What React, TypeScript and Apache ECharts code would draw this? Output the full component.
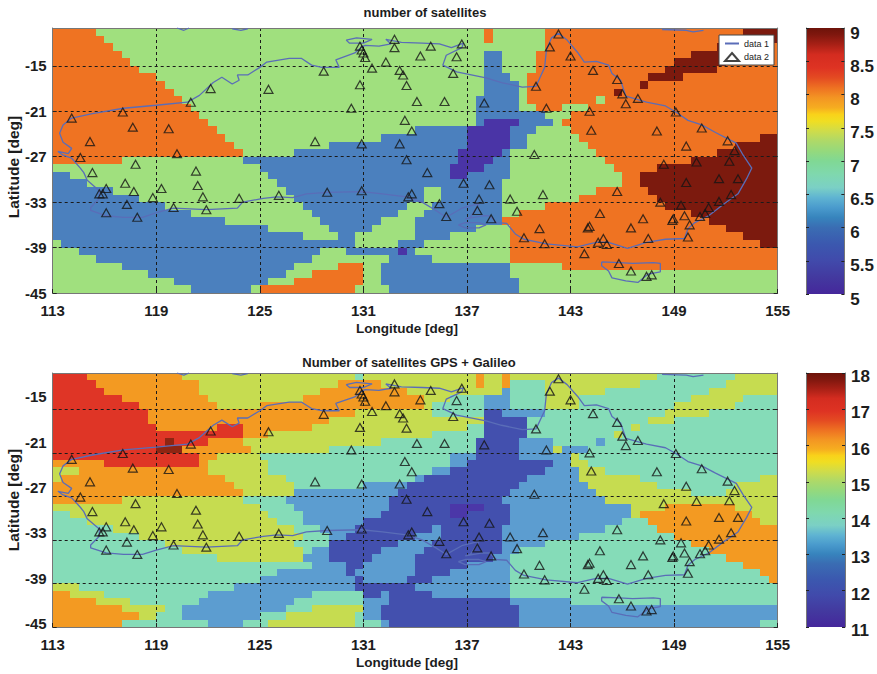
import React, { useEffect, useRef } from "react";
import * as echarts from "echarts";

const lonTicks = [113, 119, 125, 131, 137, 143, 149, 155];
const latTicks = [-15, -21, -27, -33, -39, -45];

// Each row spans one degree of latitude, from -10 downwards. A token is a level code and the longitude where it ends.
const topRows = [
  "O115.5 G138 O138.5 G141.5 O153 D155",
  "O116 G138 O138.5 G141.5 O153 D155",
  "O116.5 G141.5 O151.5 D154.5 O155",
  "O117 G138 B139 G141 O150 D154 O155",
  "O117.5 G138 B139 G141 O149 D152 O155",
  "O118 G138 B139 G141 O148.5 D151.5 O155",
  "O119 G138 B139.5 G140.5 O147.5 D149.5 O155",
  "O119.5 G138 B140 G140.5 O147 D147.5 O155",
  "O120 G138 B140 G140.5 O145.5 D146 O155",
  "O120.5 G137.5 B140 G140.5 O144.5 G145 O155",
  "O121 G137.5 B140 G141 O142.5 G144 O155",
  "O121.5 G137.5 B141.5 G143 O155",
  "O122 G137.5 B138 P140 B142 G142.5 O155",
  "O122.5 G134 B137 P139.5 B141 G143 O155",
  "O123 G132 B137 P139.5 B140.5 G143.5 O154 D155",
  "O123.5 G129 B137 P139.5 B140.5 G144 O152.5 D155",
  "O124 G127 B136.5 P139 B139.5 G144.5 O151.5 D155",
  "O117 G124 B136.5 P138.5 B139.5 G145 O150 D155",
  "G125 B136 P138 B139.5 G145.5 O148 D155",
  "B114 G125.5 B136 P137 B139.5 G146 O147 D155",
  "B115 G126 B139 G146 O147 D155",
  "B116.5 G126.5 B134.5 G135.5 B139 G144.5 O147.5 D155",
  "B118 G127 B134.5 G135.5 B139 G143.5 O148 D155",
  "B119.5 G127.5 B133.5 G135 B139 G141.5 O148.5 D155",
  "B121 G128 B133 G134.5 B139 G140 O150 D155",
  "B123 G128.5 B132 G134 B139 O151 D155",
  "B125.5 G129 B131.5 G134 B137.5 G139.5 O152 D155",
  "B127.5 G129.5 B130.5 G134 B136 G139.5 O153 D155",
  "G113.5 B130.5 G133 B134.5 G139.5 O154 D155",
  "G114.5 B128.5 G130 B133 P133.5 B134 G139.5 O155",
  "G115.5 B128 G132.5 B135 G139.5 O155",
  "G117 B127 G129.5 O131 G132 B139.5 G142.5 O155",
  "G118.5 B126.5 G128 O131 G132 B139.5 G155",
  "G120 B125.5 G127 O131 G132 B140 G155",
  "G121 B124.5 G125 O130.5 G132.5 B140 G155",
];

const bottomRows = [
  "R115 O120.5 Y130.5 T131 Y137.5 O138 Y139 O139.5 Y148 T152.5 Y155",
  "R115.5 O121.5 Y129.5 O132 Y137.5 O138 Y139 O139.5 T141.5 Y147 T152 Y155",
  "R116 O121.5 Y128.5 O133.5 Y139 L139.5 T141.5 Y145 T151 Y155",
  "R117 O122 Y127.5 O134.5 Y136 T138 L139.5 T141.5 Y143.5 T150 Y153 T155",
  "R118 O122.5 Y125 O134.5 Y135 T138 L139.5 T141.5 Y143.5 T149 Y152.5 T155",
  "R118.5 O130.5 Y135 T138 I139 L141.5 T148.5 Y151 T155",
  "R118.5 O129 Y138 I140.5 T147.5 Y149 T155",
  "R119 O122.5 R124 O128 Y137 T138 I140.5 T146.5 Y147 T155",
  "R124 O125.5 Y135 T138 I140.5 T145.5 Y146 T155",
  "R119.5 D120 R122 O124 Y132 T137.5 I140 L142 T144.5 L145 T155",
  "R119 D120.5 O124.5 Y129 T137.5 I140 L142 Y142.5 L144 T155",
  "R121.5 O122.5 Y125 T136 L137.5 I140 L143 Y143.5 T155",
  "O116 R121.5 O122 Y125.5 T136 L137 I142 L143 Y144 T155",
  "Y114.5 O122 Y125.5 T135 L136 I141.5 L143.5 Y145 T155",
  "Y113.5 O123 Y126.5 T134 L134.5 I140.5 L143.5 Y147 T154 Y155",
  "O123.5 Y127 T131 L133.5 I140 L144 Y148 T152.5 Y155",
  "O124 Y127 L133 I139.5 L144.5 Y150 T152 Y155",
  "O117 Y124 T126.5 L132.5 I139 L145 Y155",
  "Y125 T127 L132.5 I136 V138 I139.5 L146.5 Y148.5 O152.5 Y155",
  "T114 Y125.5 T127.5 L132 I136 V137 I139.5 L146.5 Y147 O153.5 Y155",
  "T115 Y126 T127.5 L131 I139.5 L146 T147.5 O154 Y155",
  "T116.5 Y127 T128.5 L130.5 I135 L135.5 I139 L145 T148 O155",
  "T118 Y127.5 T129 L130 I134 L135.5 I139 L143.5 T149 O155",
  "T119.5 Y127 T129 I133 L135 I139 L141.5 T150 O155",
  "T120.5 Y127.5 T128 L129 I132 L134.5 I139 L140 T151 O155",
  "T122.5 Y127.5 L129 I131.5 L134 I138.5 L139.5 T152 O155",
  "T128 L130 I131 L134 I137 L139.5 T153 O155",
  "T126 L130 I130.5 L134 I136 L139.5 T154 O155",
  "T125 L130.5 I131 L133.5 I135 L139.5 T154.5 O155",
  "Y114.5 T123.5 L130.5 I134 L139.5 T155",
  "O114 Y116 T122 L128 T131 I132 L132.5 I135 L139.5 T155",
  "O115.5 Y117.5 T121.5 L127 T131 L132.5 I139.5 L143 T155",
  "O117 Y119.5 T120.5 L126.5 T128 Y131 L132 I140 L155",
  "O118 Y119 T120.5 L125 T126.5 Y130.5 T131 L132 I140 L155",
  "O117 T122 L124 T125.5 Y130.5 T132 L132.5 I140 L154 T155",
];

const topLevels: Record<string, number> = { P: 5, B: 6, G: 7, O: 8, D: 9 };
const bottomLevels: Record<string, number> = { V: 11, I: 12, L: 13, T: 14, Y: 15, O: 16, R: 17, D: 18 };
const topColors: Record<number, string> = { 5: "#4a34a6", 6: "#4b80be", 7: "#a0e07e", 8: "#ef7322", 9: "#7c1a0e" };
const bottomColors: Record<number, string> = {
  11: "#4b37a8", 12: "#4350ae", 13: "#5c9dd0", 14: "#85dcb8", 15: "#c6dc50", 16: "#f39a22", 17: "#df3526", 18: "#8e2512",
};

const colorbarStops = [0, 0.0625, 0.125, 0.1875, 0.25, 0.2875, 0.325, 0.3625, 0.4, 0.45, 0.5, 0.5375, 0.575, 0.6125, 0.65, 0.675, 0.7, 0.7375, 0.775, 0.8125, 0.85, 0.9, 0.9375, 0.975, 1];
const colorbarColors = ["#45279b", "#43399f", "#414aab", "#3b58af", "#3a6db3", "#3784bd", "#4a9bcd", "#5fb4d2", "#7bd0c5", "#7fd8ae", "#80d894", "#95d97c", "#aed968", "#cfdc4a", "#f0de22", "#f9d21a", "#f6ad20", "#f39523", "#ee7122", "#e44b22", "#de3323", "#d42c20", "#a82016", "#7f170e", "#6d130a"];

const coastMain = [
  [114.1,-21.9],[113.6,-22.8],[113.4,-23.9],[113.6,-25.1],[114.1,-25.9],[113.9,-26.6],[113.3,-26.3],[113.6,-26.8],[114.1,-27.2],[114.6,-28.5],[114.8,-29.1],[115,-30.1],[115.7,-31.5],[115.7,-32.5],[115.2,-33.7],[115.2,-34.1],[116.1,-34.8],[117.1,-35],[118.2,-35],[119,-34.4],[120,-33.8],[121.9,-34],[123.7,-33.8],[124,-33],[125.2,-32.5],[126,-32.3],[126.9,-32.4],[127.7,-31.9],[128.9,-31.7],[130.9,-31.6],[132.1,-31.9],[133.5,-32.3],[134.4,-33],[135.2,-34.1],[135.8,-35],[136.7,-33.8],[137.7,-33.2],[137.2,-35],[136.9,-35.2],[137.9,-34.8],[138.3,-34.8],[138.7,-35.7],[139.3,-35.8],[139.8,-37.2],[140.3,-37.9],[141.6,-38.5],[143.4,-38.9],[144.1,-38.5],[144.5,-38.3],[145.2,-38.3],[146.3,-39.1],[147.4,-38.3],[148.5,-37.9],[149.6,-37.8],[149.8,-36.5],[150.2,-35.7],[151,-34.8],[151.9,-33.2],[152.7,-31.9],[153.2,-29.9],[153.5,-28.5],[153,-26.8],[152.6,-25.2],[151.4,-23.8],[150.6,-22.8],[149.8,-22.2],[149.1,-21.1],[148.5,-20.3],[147.4,-19.8],[146.2,-19],[145.9,-16.9],[145.4,-16],[145.2,-14.9],[144.5,-14.4],[143.8,-14.5],[143.4,-13.2],[142.8,-11.6],[142.3,-10.7],[141.9,-11.3],[141.6,-12.9],[141.5,-15.2],[141,-17.7],[140.2,-17.8],[139,-17.2],[138.1,-16.6],[136.4,-15.8],[135.6,-14.9],[135.8,-13.6],[136.7,-12.6],[136.8,-12],[136.1,-12.6],[135.4,-12.1],[134.4,-12],[133.2,-11.9],[132.3,-11.5],[132.6,-12.1],[131.9,-12.4],[131.1,-12.3],[130.9,-12.5],[130.5,-13.3],[129.4,-14.2],[129.6,-15.2],[128.6,-15.2],[128,-14.9],[127.4,-14],[126.7,-14],[125.4,-14.5],[125,-15.2],[124.3,-16.2],[123.7,-16.2],[123.8,-16.9],[123.4,-17.4],[122.8,-16.5],[122.3,-17.2],[121.5,-18.9],[120.8,-19.8],[119,-20.2],[117.1,-20.6],[115.3,-21.3],[114.1,-21.9],
];
const coastMelville = [[130,-11.6],[130.6,-11.3],[131.5,-11.5],[131,-12],[130.2,-12],[130,-11.6]];
const coastKangaroo = [[136.5,-36],[136.9,-35.7],[137.7,-35.7],[138.1,-36],[137.7,-36.4],[136.9,-36.4],[136.5,-36]];
const coastTasmania = [[144.8,-40.9],[145.8,-41],[146.6,-41.1],[147.8,-41],[148.2,-41.1],[148.2,-42.2],[147.5,-42.5],[146.9,-43.6],[146.2,-43.4],[145.4,-43],[145.2,-42.1],[144.8,-41.4],[144.8,-40.9]];
const coastNorthA = [[120.2,-10],[120.6,-10.3],[120.9,-10]];
const coastNorthB = [[123.4,-10.1],[123.9,-10.3],[124.3,-10.1]];
const coastNorthC = [[148.3,-10.2],[149.7,-10.3],[150.1,-10.5],[150.7,-10.3]];

const stations = [
  [114.1,-21.9],[117.06,-21.1],[117.64,-23.1],[119.72,-23.3],[115.16,-25],[120.2,-26.6],[114.6,-27.1],[117.8,-28],[121,-19.8],[122.15,-18],[125.5,-18.1],[115.3,-29.1],[121.3,-28.9],
  [116.1,-31.2],[115.7,-31.9],[115.9,-31.9],[117.2,-30.5],[117.7,-31.6],[119.3,-31.2],[121.4,-30.8],[121.7,-32.3],[118.8,-32.4],[117.3,-33.3],[116.1,-34.4],[117.9,-35],[120,-33.7],[121.9,-34],[123.8,-32.5],[126.1,-32.1],
  [128.9,-31.7],[130.9,-31.5],[133.8,-31.9],[133.6,-32.3],[135.4,-33.2],[135.8,-34.9],[134.7,-29.1],[136.8,-30.5],[138.3,-30.7],[137.7,-32.6],[137.6,-34.1],[138.4,-35.2],[139.5,-32.6],[141.4,-32],[139.9,-34.2],[140.3,-37.7],[141.2,-36.5],[141.5,-38.5],[143.8,-39.8],[144,-36.4],
  [145.7,-31.6],[144.7,-34.5],[144.1,-36.2],[144.6,-38.3],[144.9,-37.8],[145.1,-38.6],[145.8,-41.1],[146.5,-42.1],[147.4,-42.8],[147.7,-42.6],[146.5,-36.4],[147.2,-35.2],[147.5,-37.8],[148.2,-33],[148.9,-35.4],[148.95,-35.2],[149.4,-33.4],[149.6,-34.8],[149.9,-36],[149.8,-37.6],[150.5,-34.9],[150.8,-34.5],[151,-33.7],[151.6,-32.9],[152.3,-32],[149.7,-30.4],[151.6,-29.9],[152.7,-29.9],
  [144.3,-15.6],[145.7,-16.8],[146,-18.7],[146.2,-20],[146.9,-19.3],[144.1,-21],[144.2,-23.5],[148,-23.6],[149.1,-21.1],[150.6,-23.2],[149.7,-25.6],[152.1,-24.9],[152.5,-26.2],[152.2,-27.6],[150.3,-27.7],[148.4,-28],
  [128.7,-15.7],[130.8,-12.4],[130.9,-12.9],[131,-13.3],[131.1,-13.9],[132.8,-11.5],[132.8,-12.6],[134.9,-12.4],[136.7,-12.1],[136.4,-13.8],[134.3,-13.7],[132.3,-14.5],[131.5,-15.3],[133.1,-15.6],[133.3,-16.2],[133.5,-17.6],[136.2,-16],[130.8,-17.5],[134.1,-19.7],[135.7,-19.7],[138,-19.9],[130.3,-20.6],[133.4,-22.2],[133.8,-23.6],[128.2,-25],[130.9,-25.3],[133.1,-25.3],[133.5,-27.4],[140.9,-26.7],[141.6,-20.6],[141,-17.7],[141.8,-12.5],[142.3,-10.8],[143,-13.7],
];

const TEXT = "#1d1d1d";
const FONT = "'Liberation Sans',Arial,sans-serif";

function decode(rows: string[], levels: Record<string, number>) {
  const out: number[][] = [];
  rows.forEach((row, k) => {
    let start = 113;
    row.split(" ").forEach((tok) => {
      const end = parseFloat(tok.slice(1));
      out.push([start, end, -10 - k, -11 - k, levels[tok[0]]]);
      start = end;
    });
  });
  return out;
}

function cellSeries(data: number[][], colors: Record<number, string>, xi: number, yi: number) {
  return {
    type: "custom",
    xAxisIndex: xi,
    yAxisIndex: yi,
    z: 1,
    silent: true,
    encode: { x: [0, 1], y: [2, 3] },
    data,
    renderItem: (_: any, api: any) => {
      const a = api.coord([api.value(0), api.value(2)]);
      const b = api.coord([api.value(1), api.value(3)]);
      const x0 = Math.round(a[0]), y0 = Math.round(a[1]), x1 = Math.round(b[0]), y1 = Math.round(b[1]);
      return { type: "rect", shape: { x: x0, y: y0, width: x1 - x0, height: y1 - y0 }, style: { fill: colors[api.value(4)] } };
    },
  };
}

function colorbarSeries(min: number, max: number, xi: number, yi: number) {
  const fill = new echarts.graphic.LinearGradient(0, 1, 0, 0, colorbarColors.map((color, i) => ({ offset: colorbarStops[i], color })));
  return {
    type: "custom",
    xAxisIndex: xi,
    yAxisIndex: yi,
    z: 1,
    silent: true,
    encode: { x: [0, 1], y: [2, 3] },
    data: [[0, 1, min, max]],
    renderItem: (_: any, api: any) => {
      const a = api.coord([api.value(0), api.value(3)]);
      const b = api.coord([api.value(1), api.value(2)]);
      return { type: "rect", shape: { x: a[0], y: a[1], width: b[0] - a[0], height: b[1] - a[1] }, style: { fill } };
    },
  };
}

const joined = () => {
  const out: any[] = [];
  [coastMain, coastMelville, coastKangaroo, coastTasmania, coastNorthA, coastNorthB, coastNorthC].forEach((c, i) => {
    if (i) out.push([null, null]);
    c.forEach((p) => out.push(p));
  });
  return out;
};

function mapAxes(gridIndex: number, labelled: boolean) {
  const line = { show: true, onZero: false, lineStyle: { color: "#777", width: 1 } };
  const tick = { show: true, inside: true, length: 4, lineStyle: { color: "#222" } };
  const split = { show: true, lineStyle: { color: "#1a1a1a", type: [3, 3], width: 1 } };
  const x = [
    { type: "value", gridIndex, min: 113, max: 155, z: 3, axisLine: line, axisTick: { ...tick, customValues: lonTicks }, splitLine: split,
      axisLabel: { show: true, customValues: lonTicks, margin: 10, color: TEXT, fontSize: 15, fontFamily: FONT, fontWeight: "bold" } },
    { type: "value", gridIndex, min: 113, max: 155, position: "top", z: 3, axisLine: line, axisTick: { show: false }, splitLine: { show: false }, axisLabel: { show: false } },
  ];
  const y: any[] = [
    { type: "value", gridIndex, min: -45, max: -10, position: "left", z: 3, axisLine: line, axisTick: { ...tick, customValues: latTicks }, splitLine: split,
      axisLabel: { show: labelled, customValues: latTicks, margin: 6, color: TEXT, fontSize: 15, fontFamily: FONT, fontWeight: "bold" } },
    { type: "value", gridIndex, min: -45, max: -10, position: "right", z: 3, axisLine: line, axisTick: { ...tick, customValues: latTicks }, splitLine: { show: false }, axisLabel: { show: false } },
  ];
  return { x, y };
}

function barAxes(gridIndex: number, min: number, max: number, interval: number, shift: number) {
  const line = { show: true, onZero: false, lineStyle: { color: "#777", width: 1 } };
  const tick = { show: true, inside: true, length: 3, lineStyle: { color: "#222" } };
  return {
    x: { type: "value", gridIndex, min: 0, max: 1, show: false },
    y: [
      { type: "value", gridIndex, min, max, interval, position: "right", z: 3, axisLine: line, axisTick: tick, splitLine: { show: false },
        axisLabel: {
          show: true, margin: 6, formatter: (v: number) => `{v|${v}}`,
          rich: { v: { padding: [shift, 0, 0, 0], color: TEXT, fontSize: 17, fontFamily: FONT, fontWeight: "bold" } },
        } },
      { type: "value", gridIndex, min, max, interval, position: "left", z: 3, axisLine: line, axisTick: tick, splitLine: { show: false }, axisLabel: { show: false } },
    ],
  };
}

const App = () => {
  const ref = useRef<HTMLDivElement>(null);
  useEffect(() => {
    const chart = echarts.init(ref.current!, undefined, { renderer: "svg" });
    const a = mapAxes(0, true);
    const b = mapAxes(1, false);
    const c = barAxes(2, 5, 9, 0.5, 10);
    const d = barAxes(3, 11, 18, 1, 7);
    const labelAxis = {
      type: "value", gridIndex: 1, min: -45.44, max: -11.87, position: "left", z: 3, axisLine: { show: false }, axisTick: { show: false }, splitLine: { show: false },
      axisLabel: { show: true, customValues: latTicks, margin: 6, color: TEXT, fontSize: 15, fontFamily: FONT, fontWeight: "bold" },
    };
    const coast = joined();
    const overlay = (xi: number, yi: number) => [
      { name: "data 1", type: "line", xAxisIndex: xi, yAxisIndex: yi, z: 4, data: coast, connectNulls: false, showSymbol: false, symbol: "none", silent: true, lineStyle: { color: "#5a6db8", width: 1.3 }, itemStyle: { color: "#5a6db8" } },
      { name: "data 2", type: "scatter", xAxisIndex: xi, yAxisIndex: yi, z: 5, data: stations, symbol: "triangle", symbolSize: [9, 8], silent: true, itemStyle: { color: "rgba(0,0,0,0)", borderColor: "#151515", borderWidth: 1.2 } },
    ];
    const nameFont = `bold 13px ${FONT}`;
    const axisFont = `bold 13.5px ${FONT}`;
    const latFont = `bold 15.5px ${FONT}`;
    chart.setOption({
      animation: false,
      backgroundColor: "#fff",
      grid: [
        { left: 52.7, top: 28, width: 725, height: 265 },
        { left: 52.7, top: 373, width: 725, height: 254 },
        { left: 806, top: 28, width: 39, height: 266 },
        { left: 806, top: 373, width: 39, height: 254 },
      ],
      xAxis: [...a.x, ...b.x, c.x, d.x],
      yAxis: [...a.y, ...b.y, labelAxis, ...c.y, ...d.y],
      legend: {
        data: [
          { name: "data 1", itemStyle: { color: "rgba(0,0,0,0)", borderWidth: 0 } },
          { name: "data 2" },
        ],
        left: 719, top: 35, orient: "vertical", backgroundColor: "#fff", borderColor: "#444", borderWidth: 1,
        padding: [4, 5, 3, 5], itemWidth: 14, itemHeight: 8, itemGap: 4, z: 20, selectedMode: false,
        textStyle: { fontSize: 9, color: "#222", fontFamily: FONT },
      },
      graphic: [
        { type: "text", x: 425, y: 12, z: 10, style: { text: "number of satellites", font: nameFont, fill: TEXT, align: "center", verticalAlign: "middle" } },
        { type: "text", x: 409, y: 362, z: 10, style: { text: "Number of satellites GPS + Galileo", font: nameFont, fill: TEXT, align: "center", verticalAlign: "middle" } },
        { type: "text", x: 407, y: 328, z: 10, style: { text: "Longitude [deg]", font: axisFont, fill: TEXT, align: "center", verticalAlign: "middle" } },
        { type: "text", x: 407, y: 662, z: 10, style: { text: "Longitude [deg]", font: axisFont, fill: TEXT, align: "center", verticalAlign: "middle" } },
        { type: "text", x: 13, y: 167, rotation: Math.PI / 2, z: 10, style: { text: "Latitude [deg]", font: latFont, fill: TEXT, align: "center", verticalAlign: "middle" } },
        { type: "text", x: 13, y: 500, rotation: Math.PI / 2, z: 10, style: { text: "Latitude [deg]", font: latFont, fill: TEXT, align: "center", verticalAlign: "middle" } },
      ],
      series: [
        cellSeries(decode(topRows, topLevels), topColors, 0, 0),
        cellSeries(decode(bottomRows, bottomLevels), bottomColors, 2, 2),
        ...overlay(0, 0),
        ...overlay(2, 2),
        colorbarSeries(5, 9, 4, 5),
        colorbarSeries(11, 18, 5, 7),
      ],
    } as any);
    return () => chart.dispose();
  }, []);
  return <div ref={ref} style={{ position: "absolute", left: 0, top: 0, width: 877, height: 674 }} />;
};

export default App;
